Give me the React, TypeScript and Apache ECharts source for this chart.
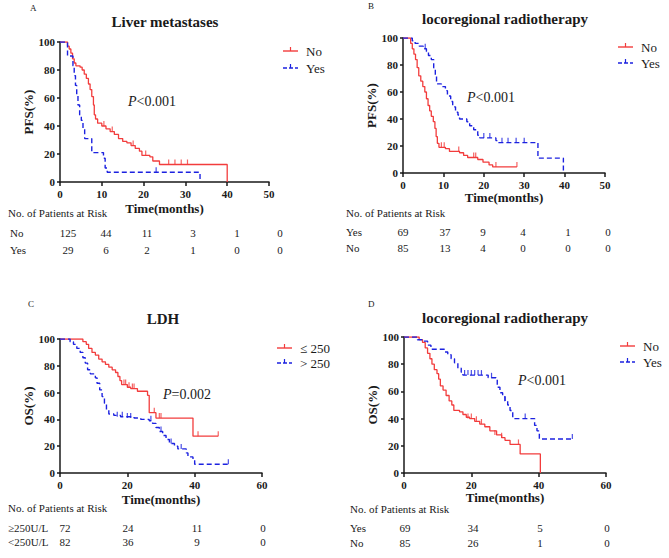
import React, { useEffect, useRef } from "react";
import * as echarts from "echarts";

// ---------- data ----------
const panelLetters = ["A", "B", "C", "D"];
const panelTitles = ["Liver metastases", "locoregional radiotherapy", "LDH", "locoregional radiotherapy"];
const yAxisNames = ["PFS(%)", "PFS(%)", "OS(%)", "OS(%)"];
const xAxisName = "Time(months)";
const xMaxes = [50, 50, 60, 60];
const xIntervals = [10, 10, 20, 20];
const pValues = ["<0.001", "<0.001", "=0.002", "<0.001"];
const legendNames = [["No", "Yes"], ["No", "Yes"], ["≤ 250", "> 250"], ["No", "Yes"]];
const riskTitle = "No. of Patients at Risk";

// Panel A: Liver metastases (PFS)
const aNo = [[0,100],[1.5,100],[1.8,97],[2.2,95],[2.6,92],[3,88],[3.4,85],[3.8,83],[4.8,82],[5.3,80],[5.8,77],[6.3,74],[6.8,70],[7.2,66],[7.6,61],[8,55],[8.2,48],[8.5,45],[9,42],[10,40],[11,38],[12,36],[13,34],[14,31],[15,29],[16,28],[17,26],[18,24],[19,22],[19.6,19],[21.5,18],[22.2,15],[23.8,12.5],[40,0]];
const aNoCensor = [[10.5,40],[12.5,36],[17.5,26],[20.5,19],[26,12.5],[27.5,12.5],[29,12.5],[30.5,12.5]];
const aYes = [[0,100],[1.5,100],[1.8,90],[2.8,90],[3.1,83],[3.4,76],[3.7,69],[4,62],[4.3,55],[4.7,48],[5.1,44],[5.5,38],[5.9,31],[7.2,31],[7.6,21],[10,21],[10.4,17],[10.8,10],[11.3,7],[33.5,0]];
const aYesCensor = [[23,7]];

// Panel B: locoregional radiotherapy (PFS)
const bNo = [[0,100],[1.5,100],[1.9,96],[2.3,92],[2.7,88],[3.1,84],[3.5,78],[3.9,72],[4.4,68],[4.9,64],[5.4,60],[5.8,55],[6.2,50],[6.6,46],[7,42],[7.5,38],[7.9,33],[8.2,27],[8.5,22],[8.9,19],[10.5,18],[11.5,16],[14,15],[15,13],[16,11.5],[18.5,10],[19.8,8],[21.3,6],[22.2,4.5],[28.2,4.5]];
const bNoCensor = [[9.5,19],[10.2,19],[13.8,16],[17.5,11.5],[18,11.5],[23,4.5],[28.2,4.5]];
const bYes = [[0,100],[1.8,100],[2.3,98],[3,96],[4,94],[5,92],[5.8,90],[6.3,87],[7,84],[7.6,78],[8,72],[8.3,66],[9.5,64],[10.5,61],[11,57],[11.8,53],[12.3,49],[13,45],[13.6,43],[14,40],[15.8,38],[16.5,35],[17.5,32],[18.5,28],[19,26],[23,24],[23.5,22.5],[33.4,11],[39.7,0]];
const bYesCensor = [[5.5,92],[20,26],[21.5,26],[24.5,22.5],[26,22.5],[28,22.5],[30,22.5]];

// Panel C: LDH (OS)
const cLow = [[0,100],[6,100],[6.8,98],[7.8,96],[8.5,93],[9.5,90],[10.5,88],[11.5,85],[12.5,83],[13.5,81],[14.5,79],[15.5,77],[16.5,75],[17.2,72],[17.8,69],[18.3,66],[20,64],[21,63],[23,61],[26,58],[26.5,45],[28.5,41],[39.5,27.5],[47,27.5]];
const cLowCensor = [[19,66],[19.5,66],[20.5,64],[21.5,63],[22,63],[28,45],[29.5,41],[30,41],[41,27.5],[47,27.5]];
const cHigh = [[0,100],[2,100],[3,98],[4,96],[5,93],[6,90],[6.8,86],[7.5,82],[8.2,77],[9,74],[10.5,71],[11,67],[11.8,62],[12.5,57],[13.2,52],[13.8,47],[14.5,44],[16,43],[18,42],[22,41],[24,40],[26.5,39],[27.5,37],[28.5,34],[29.5,31],[30.5,28],[31.5,25],[32.5,22],[34,20],[35,18],[37.5,15],[38,12],[39.5,10],[40,6.5],[50,6.5]];
const cHighCensor = [[17,42],[18.5,42],[20,41],[21,41],[27,39],[30,31],[33,22],[36,18],[50,6.5]];

// Panel D: locoregional radiotherapy (OS)
const dNo = [[0,100],[3,100],[4.5,98],[5.5,96],[6.3,92],[7,88],[7.7,84],[8.3,80],[9,76],[9.8,73],[10.3,69],[10.8,64],[11.6,61],[12.5,57],[13.4,53],[14.2,50],[14.8,46],[16.5,45],[17.5,43],[18.5,41],[19.5,40],[21,38],[22.5,36],[24,34],[25.5,31],[27.5,28],[29,26],[30,24],[31.5,21],[34.5,14],[40.5,0]];
const dNoCensor = [[19,40],[20,40],[21.5,38],[23,36],[27,28],[29,26],[34,21]];
const dYes = [[0,100],[3,100],[4,98],[5.5,97],[7,94],[8,91],[11.3,91],[12,89],[13,87],[14,84],[15,81],[16,77],[17,74],[17.5,72],[24.5,72],[25,70],[27.3,69],[27.7,63],[28.5,59],[29.3,56],[30,53],[30.8,50],[31.5,46],[32.3,40],[38.3,40],[38.8,35],[39.5,31],[40.2,25],[50,25]];
const dYesCensor = [[18,72],[19,72],[20,72],[21,72],[22,72],[23,72],[26,70],[30,53],[36,40],[50,25]];

// Risk tables
const riskARows = ["No", "Yes"];
const riskANo = [125, 44, 11, 3, 1, 0];
const riskAYes = [29, 6, 2, 1, 0, 0];
const riskBRows = ["Yes", "No"];
const riskBYes = [69, 37, 9, 4, 1, 0];
const riskBNo = [85, 13, 4, 0, 0, 0];
const riskCRows = ["≥250U/L", "<250U/L"];
const riskCHigh = [72, 24, 11, 0];
const riskCLow = [82, 36, 9, 0];
const riskDRows = ["Yes", "No"];
const riskDYes = [69, 34, 5, 0];
const riskDNo = [85, 26, 1, 0];

// ---------- styling / layout ----------
const RED = "#f23c3c";
const BLUE = "#1c22e0";
const FONT = "Liberation Serif, serif";
const INK = "#1a1a1a";

const grids = [
  { left: 60, top: 42, width: 209, height: 140 },
  { left: 403, top: 38, width: 202, height: 135 },
  { left: 60, top: 339, width: 202, height: 134 },
  { left: 404, top: 337, width: 202, height: 136 },
];
const xNameGaps = [20, 17, 20, 18];

const curves = [
  [aNo, aNoCensor, aYes, aYesCensor],
  [bNo, bNoCensor, bYes, bYesCensor],
  [cLow, cLowCensor, cHigh, cHighCensor],
  [dNo, dNoCensor, dYes, dYesCensor],
];

const letterPos = [[30, 8], [368, 6], [28, 304], [368, 304]];
const titlePos = [[165, 22], [505, 19], [163, 319], [505, 318]];
const legendPos = [[283, 51], [618, 47], [277, 348], [620, 346]];
const legendStep = [17, 16, 15, 16];
const pPos = [[128, 101], [467, 97], [163, 394], [518, 380]];

const riskLayout = [
  { title: [8, 213], labelX: 10, rowsY: [233, 250], cols: [68, 106, 147, 193, 237, 280], rows: riskARows, vals: [riskANo, riskAYes] },
  { title: [346, 213], labelX: 346, rowsY: [232, 248], cols: [403, 445, 483, 523, 568, 608], rows: riskBRows, vals: [riskBYes, riskBNo] },
  { title: [8, 508], labelX: 8, rowsY: [528, 542], cols: [65, 128, 197, 263], rows: riskCRows, vals: [riskCHigh, riskCLow] },
  { title: [350, 509], labelX: 350, rowsY: [528, 543], cols: [405, 473, 540, 607], rows: riskDRows, vals: [riskDYes, riskDNo] },
];

function txt(x: number, y: number, text: string, opts: any = {}) {
  return {
    type: "text",
    x,
    y,
    silent: true,
    style: {
      text,
      fill: opts.fill || INK,
      fontFamily: FONT,
      fontSize: opts.size || 11,
      fontWeight: opts.weight || "normal",
      fontStyle: opts.style || "normal",
      textAlign: opts.align || "left",
      textVerticalAlign: "middle",
    },
  };
}

export default function App() {
  const ref = useRef<HTMLDivElement>(null);

  useEffect(() => {
    document.body.style.margin = "0";
    if (!ref.current) return;
    const chart = echarts.init(ref.current, undefined, { renderer: "svg" });

    const xAxis: any[] = [];
    const yAxis: any[] = [];
    const series: any[] = [];
    const graphic: any[] = [];

    grids.forEach((g, i) => {
      xAxis.push({
        gridIndex: i,
        type: "value",
        min: 0,
        max: xMaxes[i],
        interval: xIntervals[i],
        name: xAxisName,
        nameLocation: "middle",
        nameGap: xNameGaps[i],
        nameTextStyle: { fontFamily: FONT, fontWeight: "bold", fontSize: 13, color: INK },
        axisLine: { lineStyle: { color: INK, width: 1.5 } },
        axisTick: { length: 4, lineStyle: { color: INK, width: 1.5 } },
        axisLabel: { fontFamily: FONT, fontWeight: "bold", fontSize: 11, color: INK, margin: 6 },
        splitLine: { show: false },
      });
      yAxis.push({
        gridIndex: i,
        type: "value",
        min: 0,
        max: 100,
        interval: 20,
        name: yAxisNames[i],
        nameLocation: "middle",
        nameGap: 23,
        nameTextStyle: { fontFamily: FONT, fontWeight: "bold", fontSize: 13, color: INK },
        axisLine: { show: true, lineStyle: { color: INK, width: 1.5 } },
        axisTick: { show: true, length: 3, lineStyle: { color: INK, width: 1.5 } },
        axisLabel: { fontFamily: FONT, fontWeight: "bold", fontSize: 11, color: INK, margin: 5 },
        splitLine: { show: false },
      });

      const [c1, c1c, c2, c2c] = curves[i];
      const names = legendNames[i];
      series.push({
        type: "line",
        name: `${panelLetters[i]} ${names[0]}`,
        xAxisIndex: i,
        yAxisIndex: i,
        data: c1,
        step: "end",
        symbol: "none",
        lineStyle: { color: RED, width: 1.3 },
        itemStyle: { color: RED },
        z: 3,
      });
      series.push({
        type: "scatter",
        name: `${panelLetters[i]} ${names[0]} censored`,
        xAxisIndex: i,
        yAxisIndex: i,
        data: c1c,
        symbol: "rect",
        symbolSize: [1.2, 5],
        symbolOffset: [0, -2.5],
        itemStyle: { color: RED },
        z: 3,
      });
      series.push({
        type: "line",
        name: `${panelLetters[i]} ${names[1]}`,
        xAxisIndex: i,
        yAxisIndex: i,
        data: c2,
        step: "end",
        symbol: "none",
        lineStyle: { color: BLUE, width: 1.4, type: [5, 3] },
        itemStyle: { color: BLUE },
        z: 4,
      });
      series.push({
        type: "scatter",
        name: `${panelLetters[i]} ${names[1]} censored`,
        xAxisIndex: i,
        yAxisIndex: i,
        data: c2c,
        symbol: "rect",
        symbolSize: [1.2, 5],
        symbolOffset: [0, -2.5],
        itemStyle: { color: BLUE },
        z: 4,
      });

      graphic.push(txt(letterPos[i][0], letterPos[i][1], panelLetters[i], { size: 9 }));
      graphic.push(txt(titlePos[i][0], titlePos[i][1], panelTitles[i], { size: 15, weight: "bold", align: "center" }));

      const [lx, ly] = legendPos[i];
      [RED, BLUE].forEach((col, k) => {
        const yy = ly + k * legendStep[i];
        graphic.push({
          type: "line",
          silent: true,
          shape: { x1: lx, y1: yy, x2: lx + 15, y2: yy },
          style: { stroke: col, lineWidth: 1.4, lineDash: k === 1 ? [4, 2] : null },
        });
        graphic.push({
          type: "line",
          silent: true,
          shape: { x1: lx + 7.5, y1: yy - 4, x2: lx + 7.5, y2: yy },
          style: { stroke: col, lineWidth: 1.2 },
        });
        graphic.push(txt(lx + 23, yy, names[k], { size: 13 }));
      });

      graphic.push(txt(pPos[i][0], pPos[i][1], "P", { size: 14, style: "italic" }));
      graphic.push(txt(pPos[i][0] + 8.5, pPos[i][1], pValues[i], { size: 14 }));

      const r = riskLayout[i];
      graphic.push(txt(r.title[0], r.title[1], riskTitle, { size: 11 }));
      r.rows.forEach((lab, k) => {
        graphic.push(txt(r.labelX, r.rowsY[k], lab, { size: 11 }));
        r.vals[k].forEach((v, j) => {
          graphic.push(txt(r.cols[j], r.rowsY[k], String(v), { size: 11, align: "center" }));
        });
      });
    });

    chart.setOption({
      animation: false,
      backgroundColor: "#ffffff",
      textStyle: { fontFamily: FONT },
      grid: grids.map((g) => ({ ...g, containLabel: false })),
      xAxis,
      yAxis,
      series,
      graphic,
    });

    return () => chart.dispose();
  }, []);

  return <div ref={ref} style={{ width: 669, height: 558 }} />;
}
